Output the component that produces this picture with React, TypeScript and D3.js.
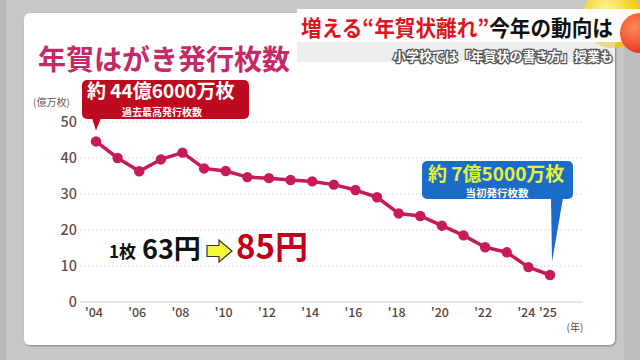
import React from "react";
import * as d3 from "d3";

const years = [2004,2005,2006,2007,2008,2009,2010,2011,2012,2013,2014,2015,2016,2017,2018,2019,2020,2021,2022,2023,2024,2025];
const values = [44.6,40.0,36.3,39.6,41.5,37.1,36.4,34.7,34.4,33.9,33.5,32.6,31.1,29.1,24.6,23.9,21.2,18.5,15.2,13.8,9.7,7.5];
const yTicks = [0,10,20,30,40,50];
const xTickYears = [2004,2006,2008,2010,2012,2014,2016,2018,2020,2022,2024,2025];

const JP = "'Noto Sans CJK JP', 'Noto Sans', sans-serif";

export default function App() {
  const W = 640, H = 360;
  const x = d3.scaleLinear().domain([2004, 2025]).range([96, 550]);
  const y = d3.scaleLinear().domain([0, 50]).range([302, 122]);
  const line = d3.line<number>().x((_, i) => x(years[i])).y((v) => y(v));
  const pts = values.map((v, i) => ({ x: x(years[i]), y: y(v) }));
  const first = pts[0];
  const last = pts[pts.length - 1];

  return (
    <svg width={W} height={H} style={{ position: "absolute", left: 0, top: 0 }} fontFamily={JP}>
      <defs>
        <radialGradient id="yel" cx="0.4" cy="0.4" r="0.6">
          <stop offset="0" stopColor="#fff6a0" />
          <stop offset="1" stopColor="#f2c400" />
        </radialGradient>
        <radialGradient id="redb" cx="0.35" cy="0.35" r="0.7">
          <stop offset="0" stopColor="#ff8a5a" />
          <stop offset="1" stopColor="#e8341a" />
        </radialGradient>
        <filter id="sh" x="-5%" y="-5%" width="110%" height="110%">
          <feDropShadow dx="1" dy="1" stdDeviation="1.2" floodColor="#000" floodOpacity="0.35" />
        </filter>
      </defs>
      <rect x={0} y={0} width={W} height={H} fill="#c7c7c7" />
      <rect x={0} y={0} width={6} height={H} fill="#b8b8b8" />
      <rect x={624} y={0} width={16} height={H} fill="#bdbdbd" />
      <rect x={24} y={13} width={591} height={332} rx={6} fill="#ffffff" filter="url(#sh)" />

      <circle cx={612} cy={18} r={30} fill="url(#yel)" />

      <text x={38} y={70} fontSize={28} fontWeight={700} fill="#c52a66">年賀はがき発行枚数</text>
      <text x={33} y={106} fontSize={10} fill="#6b5a55">(億万枚)</text>

      {yTicks.filter((t) => t > 0).map((t) => (
        <line key={t} x1={80} x2={583} y1={y(t)} y2={y(t)} stroke="#cfcfcf" strokeWidth={1} strokeDasharray="1.5,2.5" />
      ))}
      <line x1={80} x2={583} y1={y(0)} y2={y(0)} stroke="#dcdcdc" strokeWidth={1.5} />
      {yTicks.map((t) => (
        <text key={t} x={77} y={y(t) + 5} fontSize={14.5} fontWeight={500} fill="#6a4d48" textAnchor="end">{t}</text>
      ))}
      {xTickYears.map((yr) => (
        <text key={yr} x={x(yr) - 2} y={317} fontSize={12.5} fontWeight={500} fill="#5b4541" textAnchor="middle">{"'" + String(yr).slice(2)}</text>
      ))}
      <text x={575} y={331} fontSize={10} fill="#5b4541" textAnchor="middle">(年)</text>

      <path d={line(values) || ""} fill="none" stroke="#c8195a" strokeWidth={3.5} strokeLinejoin="round" />
      {pts.map((p, i) => (
        <circle key={i} cx={p.x} cy={p.y} r={5.2} fill="#c8195a" />
      ))}

      <g>
        <rect x={82} y={80} width={167} height={39} rx={5} fill="#be0a1e" />
        <path d={`M${first.x - 4},118 L${first.x + 5},118 L${first.x},${first.y - 11} Z`} fill="#be0a1e" />
        <text x={87} y={98} fontSize={19} fontWeight={700} fill="#ffffff">約 44億6000万枚</text>
        <text x={162} y={116} fontSize={10} fontWeight={700} fill="#ffffff" textAnchor="middle">過去最高発行枚数</text>
      </g>

      <g>
        <rect x={422} y={161} width={151} height={38} rx={5} fill="#1a6cc8" />
        <path d={`M${last.x + 1},198 L${last.x + 13},198 L${last.x + 2},${last.y - 13} Z`} fill="#1a6cc8" />
        <text x={428} y={181} fontSize={19} fontWeight={700} fill="#e6f23a">約 7億5000万枚</text>
        <text x={497} y={196.5} fontSize={10.5} fontWeight={700} fill="#ffffff" textAnchor="middle">当初発行枚数</text>
      </g>

      <g fontWeight={700}>
        <text x={109} y={258} fontSize={17} fill="#111">1枚</text>
        <text x={142} y={258.5} fontSize={27} fill="#111">63円</text>
        <path d="M207,245.5 L219,245.5 L219,240 L232,251 L219,262 L219,256.5 L207,256.5 Z" fill="#f5f53a" stroke="#333" strokeWidth={1.2} />
        <text x={236} y={259} fontSize={33} fill="#c0001a">85円</text>
      </g>

      <rect x={297} y={9} width={343} height={33} fill="#ffffff" fillOpacity={0.95} />
      <rect x={297} y={42} width={318} height={20} fill="#e2e2e2" fillOpacity={0.6} />
      <text x={301} y={36} fontSize={22} fontWeight={700} textLength={312} lengthAdjust="spacingAndGlyphs">
        <tspan fill="#e0141e">増える“年賀状離れ”</tspan>
        <tspan fill="#111">今年の動向は</tspan>
      </text>
      <text x={613} y={61} fontSize={13} fontWeight={700} fill="#ffffff" stroke="#555" strokeWidth={2.5} paintOrder="stroke" textAnchor="end" textLength={220} lengthAdjust="spacingAndGlyphs">小学校では「年賀状の書き方」授業も</text>
      <circle cx={640} cy={33} r={20} fill="url(#redb)" />
    </svg>
  );
}
